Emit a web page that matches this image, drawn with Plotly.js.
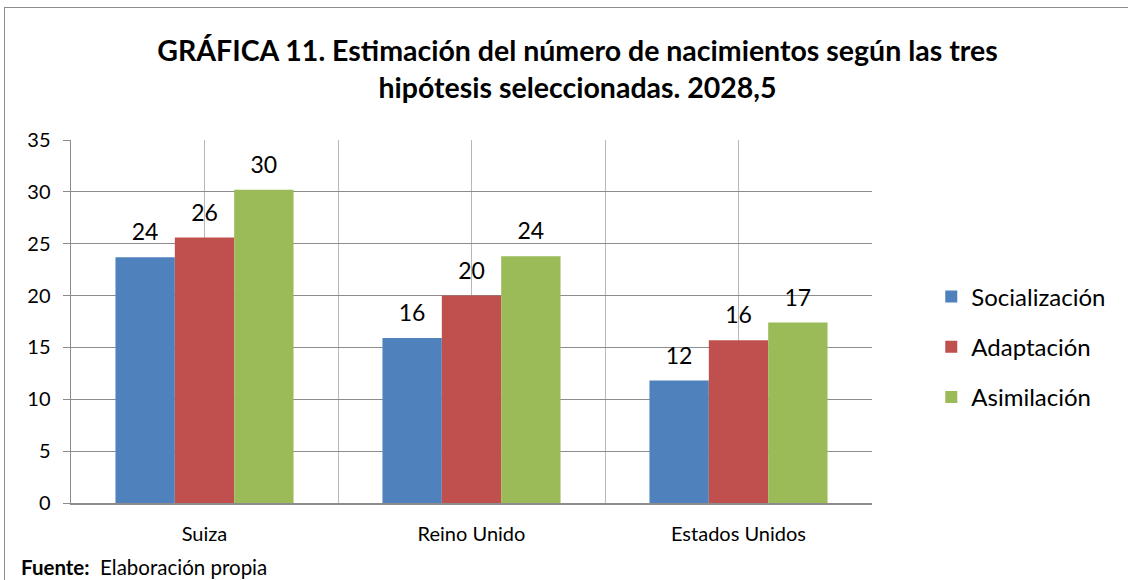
<!DOCTYPE html>
<html><head><meta charset="utf-8">
<script src="https://cdn.plot.ly/plotly-3.0.1.min.js"></script>
<style>
html,body{margin:0;padding:0;background:#fff;}
#frame{position:absolute;left:4px;top:7px;width:1130px;height:600px;border:1.5px solid #8c8c8c;box-sizing:border-box;pointer-events:none;}
#chart{position:absolute;left:0;top:0;width:1128px;height:580px;}
</style></head>
<body>
<div id="chart"></div>
<div id="frame"></div>
<script>
const categories = ['Suiza', 'Reino Unido', 'Estados Unidos'];
const seriesNames = ['Socialización', 'Adaptación', 'Asimilación'];
const socializacion = [23.7, 15.9, 11.8];
const adaptacion = [25.6, 20.0, 15.7];
const asimilacion = [30.2, 23.8, 17.4];
const colors = ['#4F81BD', '#C0504D', '#9BBB59'];
const yTicks = [0, 5, 10, 15, 20, 25, 30, 35];

const FONT = 'Lato, "Noto Sans", sans-serif';
const xIdx = categories.map((c, i) => i);
const allSeries = [socializacion, adaptacion, asimilacion];

const barTraces = allSeries.map((vals, k) => ({
  type: 'bar',
  name: seriesNames[k],
  x: xIdx,
  y: vals,
  legendgroup: 'g' + k,
  offsetgroup: 'o' + k,
  marker: {color: colors[k], line: {width: 0}},
  hoverinfo: 'none'
}));

const labelTraces = allSeries.map((vals, k) => ({
  type: 'scatter',
  mode: 'markers+text',
  x: xIdx,
  y: vals,
  offsetgroup: 'o' + k,
  showlegend: false,
  legendgroup: 'g' + k,
  marker: {size: 16, opacity: 0, color: colors[k]},
  text: vals.map(v => String(Math.round(v))),
  textposition: 'top center',
  textfont: {family: FONT, size: 23, color: '#000'},
  cliponaxis: false,
  hoverinfo: 'none'
}));

const tickvals = [], ticktext = [];
for (let i = -0.5; i <= categories.length - 0.5 + 1e-9; i += 0.5) {
  tickvals.push(i);
  ticktext.push(Number.isInteger(i) ? categories[i] : '');
}

const layout = {
  width: 1128, height: 580,
  margin: {l: 71, r: 256, t: 140, b: 77},
  paper_bgcolor: '#fff', plot_bgcolor: '#fff',
  barmode: 'group', bargap: 0.333, bargroupgap: 0,
  scattermode: 'group', scattergap: 0.333,
  title: {
    text: '<b>GRÁFICA 11. Estimación del número de nacimientos según las tres<br>hipótesis seleccionadas. 2028,5</b>',
    font: {family: FONT, size: 28.5, color: '#000'},
    x: 0.512, xanchor: 'center', y: 0.895, yanchor: 'middle'
  },
  xaxis: {
    type: 'linear', range: [-0.5, categories.length - 0.5],
    tickmode: 'array', tickvals: tickvals, ticktext: ticktext,
    showgrid: true, gridcolor: '#b7b7b7', gridwidth: 1,
    showline: true, linecolor: '#8c8c8c', linewidth: 1.5,
    ticks: '', zeroline: false,
    tickfont: {family: FONT, size: 20, color: '#000'},
    ticklabelstandoff: 12, fixedrange: true
  },
  yaxis: {
    range: [0, 35], tickmode: 'array', tickvals: yTicks,
    showgrid: true, gridcolor: '#8c8c8c', gridwidth: 1,
    showline: true, linecolor: '#8c8c8c', linewidth: 1.5,
    ticks: 'outside', ticklen: 7, tickcolor: '#8c8c8c',
    zeroline: false,
    tickfont: {family: FONT, size: 20, color: '#000'},
    ticklabelstandoff: 8, fixedrange: true
  },
  showlegend: true,
  legend: {
    x: 1.074, xanchor: 'left', y: 0.43, yanchor: 'middle',
    font: {family: FONT, size: 24, color: '#000'},
    traceorder: 'grouped', tracegroupgap: 16,
    itemwidth: 30, bgcolor: 'rgba(0,0,0,0)'
  },
  annotations: [{
    xref: 'paper', yref: 'paper', x: -0.065, y: -0.175,
    xanchor: 'left', yanchor: 'middle', showarrow: false,
    text: '<b>Fuente:</b>  Elaboración propia',
    font: {family: FONT, size: 20.5, color: '#000'}
  }]
};

Plotly.newPlot('chart', barTraces.concat(labelTraces), layout, {displayModeBar: false, staticPlot: true});
</script>
</body></html>
